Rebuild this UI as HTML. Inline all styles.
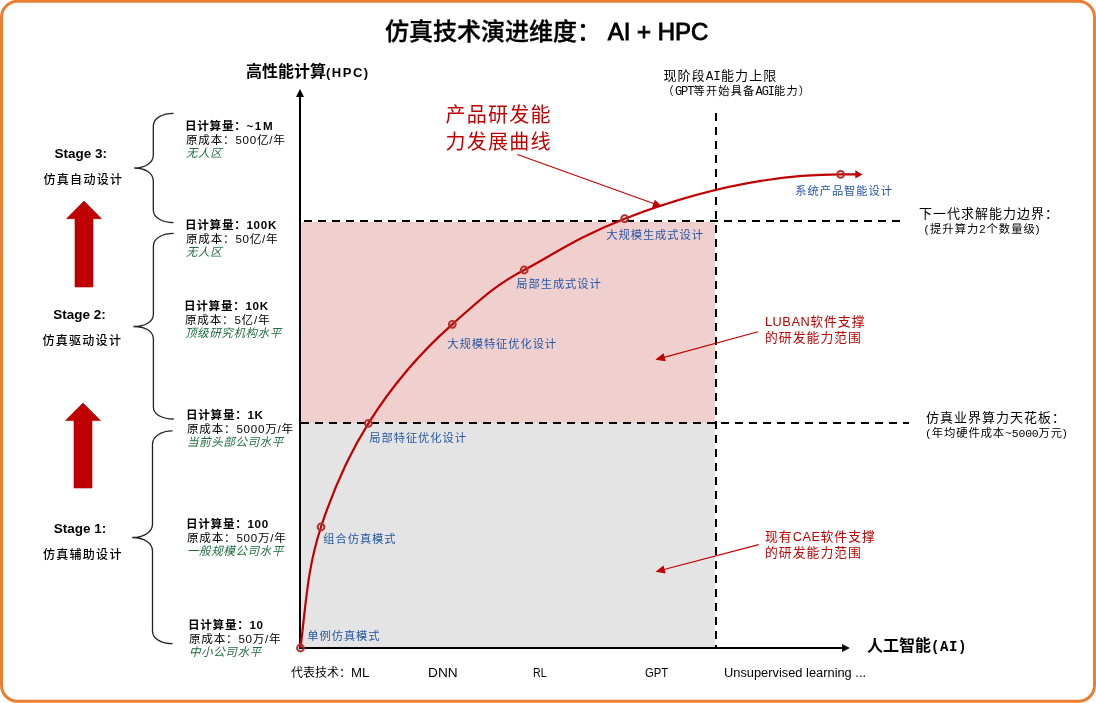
<!DOCTYPE html>
<html><head><meta charset="utf-8">
<style>
html,body{margin:0;padding:0;background:#fff;}
body{width:1096px;height:703px;position:relative;overflow:hidden;will-change:transform;font-family:"Liberation Sans","Noto Sans CJK SC",sans-serif;color:#000;}
svg{position:absolute;left:0;top:0;}
.t{position:absolute;white-space:nowrap;line-height:1;}
.m{font-family:"Liberation Mono","Noto Sans CJK SC",monospace;}
.blue{color:#2657A6;font-size:11.3px;letter-spacing:0.9px;}
.red{color:#C00000;}
.g{color:#1F6E3E;font-style:italic;}
.blk{position:absolute;font-size:11.6px;line-height:13.8px;white-space:nowrap;letter-spacing:0.5px;}
.blk b{font-weight:bold;letter-spacing:0.7px;position:relative;left:-1px;top:-1px;}
.blk .c{letter-spacing:0.75px;}
.blk .g{position:relative;top:-1.4px;}
.sb{font-size:13.5px;font-weight:bold;}
.sc{font-size:12px;letter-spacing:1.3px;font-weight:500;}
</style></head><body>
<svg width="1096" height="703" viewBox="0 0 1096 703">
  <!-- frame -->
  <rect x="1.5" y="1.3" width="1093" height="700" rx="16" ry="16" fill="none" stroke="#ED7D31" stroke-width="3"/>
  <!-- regions -->
  <rect x="301" y="222" width="414" height="201" fill="#EFD0CE"/>
  <rect x="301" y="423" width="414" height="224" fill="#E4E4E4"/>
  <!-- dashed lines -->
  <line x1="304" y1="221" x2="900" y2="221" stroke="#000" stroke-width="2" stroke-dasharray="8 6"/>
  <line x1="301" y1="423" x2="909" y2="423" stroke="#000" stroke-width="2" stroke-dasharray="8 6"/>
  <line x1="716" y1="113" x2="716" y2="647" stroke="#000" stroke-width="2" stroke-dasharray="8 6"/>
  <!-- axes -->
  <line x1="300" y1="96" x2="300" y2="649" stroke="#000" stroke-width="2"/>
  <polygon points="300,89 296,97 304,97" fill="#000"/>
  <line x1="299" y1="648" x2="843" y2="648" stroke="#000" stroke-width="2"/>
  <polygon points="850,648 842,644 842,652" fill="#000"/>
  <!-- braces -->
  <g fill="none" stroke="#222" stroke-width="1.3">
    <path d="M173.5,113.3 C163,113.3 153.3,118 153.3,126 L153.3,155 C153.3,163 145,168 134.3,168 C145,168 153.3,173 153.3,181 L153.3,210 C153.3,218 163,222.6 173.5,222.6"/>
    <path d="M173.7,233.4 C163,233.4 153.4,238 153.4,246 L153.4,314 C153.4,322 145,326.5 133.4,326.5 C145,326.5 153.4,331 153.4,339 L153.4,407 C153.4,415 163,419 173.7,419"/>
    <path d="M172.5,430.9 C162,430.9 152.5,436 152.5,444 L152.5,524 C152.5,532 144,537.5 132.2,537.5 C144,537.5 152.5,543 152.5,551 L152.5,631 C152.5,639 162,643.7 172.5,643.7"/>
  </g>
  <!-- big red arrows -->
  <polygon points="84,201 101.5,218.7 93,218.7 93,287 75,287 75,218.7 66.5,218.7" fill="#C00000" stroke="#A50000" stroke-width="0.6"/>
  <polygon points="83,403 100.5,420.6 92,420.6 92,488 74,488 74,420.6 65.5,420.6" fill="#C00000" stroke="#A50000" stroke-width="0.6"/>
  <!-- curve -->
  <path id="curve" d="M300.5,648.0 C306.2,601.9 307.2,569.2 321.0,527.0 C333.2,489.8 349.7,453.1 368.4,423.3 C390.5,388.0 419.4,353.3 452.3,324.3 C479.0,300.8 494.6,285.2 524.2,270.0 C550.8,256.3 576.8,237.3 624.7,218.7 C694.8,191.6 767.2,174.4 840.6,174.4 L856,174.4" fill="none" stroke="#C00000" stroke-width="2.2"/>
  <polygon points="862.5,174.4 855.3,170.2 855.3,178.6" fill="#C00000"/>
  <g fill="none" stroke="#B3302B" stroke-width="2">
    <circle cx="300.5" cy="648" r="3.4"/>
    <circle cx="321" cy="527" r="3.4"/>
    <circle cx="368.4" cy="423.3" r="3.4"/>
    <circle cx="452.3" cy="324.3" r="3.4"/>
    <circle cx="524.2" cy="270" r="3.4"/>
    <circle cx="624.7" cy="218.7" r="3.4"/>
    <circle cx="840.6" cy="174.4" r="3.4"/>
  </g>
  <!-- annotation arrows -->
  <g stroke="#C00000" stroke-width="1.1" fill="#C00000">
    <line x1="517.4" y1="154.6" x2="654.9" y2="204.1"/>
    <polygon points="661,206.3 652.8,206.9 655.1,200.7"/>
    <line x1="758" y1="331.7" x2="663.1" y2="357.6"/>
    <polygon points="656.8,359.3 663.2,354.1 664.9,360.5"/>
    <line x1="758.7" y1="544.6" x2="663.1" y2="569.8"/>
    <polygon points="656.8,571.5 663.2,566.4 664.9,572.8"/>
  </g>
</svg>

<!-- title -->
<div class="t" style="left:385px;top:20px;font-size:24px;font-weight:500;-webkit-text-stroke:0.35px #000;">仿真技术演进维度： <span style="-webkit-text-stroke:0.9px #000;">AI + HPC</span></div>
<!-- axis labels -->
<div class="t" style="left:246px;top:64px;font-size:16px;font-weight:bold;">高性能计算<span style="font-size:13px;letter-spacing:1.5px;">(HPC)</span></div>
<div class="t" style="left:867px;top:638px;font-size:16px;font-weight:bold;">人工智能<span class="m" style="font-size:14px;letter-spacing:0.6px;">(AI)</span></div>

<!-- right annotations -->
<div class="t" style="left:663.5px;top:69px;font-size:13px;letter-spacing:1.1px;">现阶段<span class="m" style="font-size:12.6px;letter-spacing:0;">AI</span>能力上限</div>
<div class="t" style="left:662.5px;top:85.5px;font-size:11.2px;letter-spacing:1.2px;">（<span class="m" style="font-size:12px;letter-spacing:-1px;">GPT</span>等开始具备<span class="m" style="font-size:12px;letter-spacing:-1px;">AGI</span>能力）</div>
<div class="t" style="left:919px;top:206.5px;font-size:13px;letter-spacing:1px;">下一代求解能力边界：</div>
<div class="t" style="left:924.5px;top:224px;font-size:11.3px;letter-spacing:1px;">(<span style="margin-left:0.8px;">提升算力2个数量级)</span></div>
<div class="t" style="left:926px;top:410.5px;font-size:13px;letter-spacing:1px;">仿真业界算力天花板：</div>
<div class="t" style="left:926.2px;top:428px;font-size:11.3px;letter-spacing:0.9px;">(<span style="margin-left:1px;">年均硬件成本</span><span class="m" style="font-size:11.5px;letter-spacing:-0.2px;">~5000</span>万元)</div>

<!-- red annotations -->
<div class="t red" style="left:445.5px;top:102px;font-size:20px;line-height:26.5px;letter-spacing:1.25px;">产品研发能<br>力发展曲线</div>
<div class="t red" style="left:765px;top:313.5px;font-size:12.8px;line-height:16.8px;letter-spacing:1.05px;"><span style="letter-spacing:0.5px;">LUBAN</span>软件支撑<br>的研发能力范围</div>
<div class="t red" style="left:765px;top:528.5px;font-size:12.8px;line-height:16.8px;letter-spacing:1.05px;">现有<span style="letter-spacing:0.5px;">CAE</span>软件支撑<br>的研发能力范围</div>

<!-- curve point labels -->
<div class="t blue" style="left:795.3px;top:186.4px;">系统产品智能设计</div>
<div class="t blue" style="left:606.3px;top:230.4px;">大规模生成式设计</div>
<div class="t blue" style="left:516.3px;top:279.4px;">局部生成式设计</div>
<div class="t blue" style="left:447.3px;top:339.4px;">大规模特征优化设计</div>
<div class="t blue" style="left:369.3px;top:433.4px;">局部特征优化设计</div>
<div class="t blue" style="left:323.3px;top:534.4px;">组合仿真模式</div>
<div class="t blue" style="left:307.3px;top:631.4px;">单例仿真模式</div>

<!-- bottom labels -->
<div class="t" style="left:291px;top:666.5px;font-size:12px;"><span style="position:relative;top:0.7px;">代表技术：</span><span style="display:inline-block;transform:scaleX(1.1);transform-origin:0 0;">ML</span></div>
<div class="t" style="left:428px;top:666.5px;font-size:12px;transform:scaleX(1.14);transform-origin:0 0;">DNN</div>
<div class="t" style="left:533.3px;top:666.5px;font-size:12px;transform:scaleX(0.88);transform-origin:0 0;">RL</div>
<div class="t" style="left:644.5px;top:666.5px;font-size:12px;transform:scaleX(0.94);transform-origin:0 0;">GPT</div>
<div class="t" style="left:724px;top:666.5px;font-size:12px;transform:scaleX(1.07);transform-origin:0 0;">Unsupervised learning ...</div>

<!-- stage labels -->
<div class="t sb" style="left:54.5px;top:146.5px;">Stage 3:</div>
<div class="t sc" style="left:43.5px;top:173.7px;">仿真自动设计</div>
<div class="t sb" style="left:53.3px;top:308.2px;">Stage 2:</div>
<div class="t sc" style="left:42.4px;top:334.7px;">仿真驱动设计</div>
<div class="t sb" style="left:53.8px;top:521.5px;">Stage 1:</div>
<div class="t sc" style="left:42.9px;top:548.7px;">仿真辅助设计</div>

<!-- data blocks -->
<div class="blk" style="left:186.0px;top:119.7px;"><b>日计算量：<span style="letter-spacing:1.6px;">~1M</span></b><br><span class="c">原成本：500亿/年</span><br><span class="g">无人区</span></div>
<div class="blk" style="left:186.0px;top:218.7px;"><b>日计算量：100K</b><br><span class="c">原成本：50亿/年</span><br><span class="g">无人区</span></div>
<div class="blk" style="left:185.0px;top:299.7px;"><b>日计算量：10K</b><br><span class="c">原成本：5亿/年</span><br><span class="g">顶级研究机构水平</span></div>
<div class="blk" style="left:187.0px;top:408.7px;"><b>日计算量：1K</b><br><span class="c">原成本：5000万/年</span><br><span class="g">当前头部公司水平</span></div>
<div class="blk" style="left:187.0px;top:517.7px;"><b>日计算量：100</b><br><span class="c">原成本：500万/年</span><br><span class="g">一般规模公司水平</span></div>
<div class="blk" style="left:189.0px;top:618.7px;"><b>日计算量：10</b><br><span class="c">原成本：50万/年</span><br><span class="g">中小公司水平</span></div>

</body></html>
